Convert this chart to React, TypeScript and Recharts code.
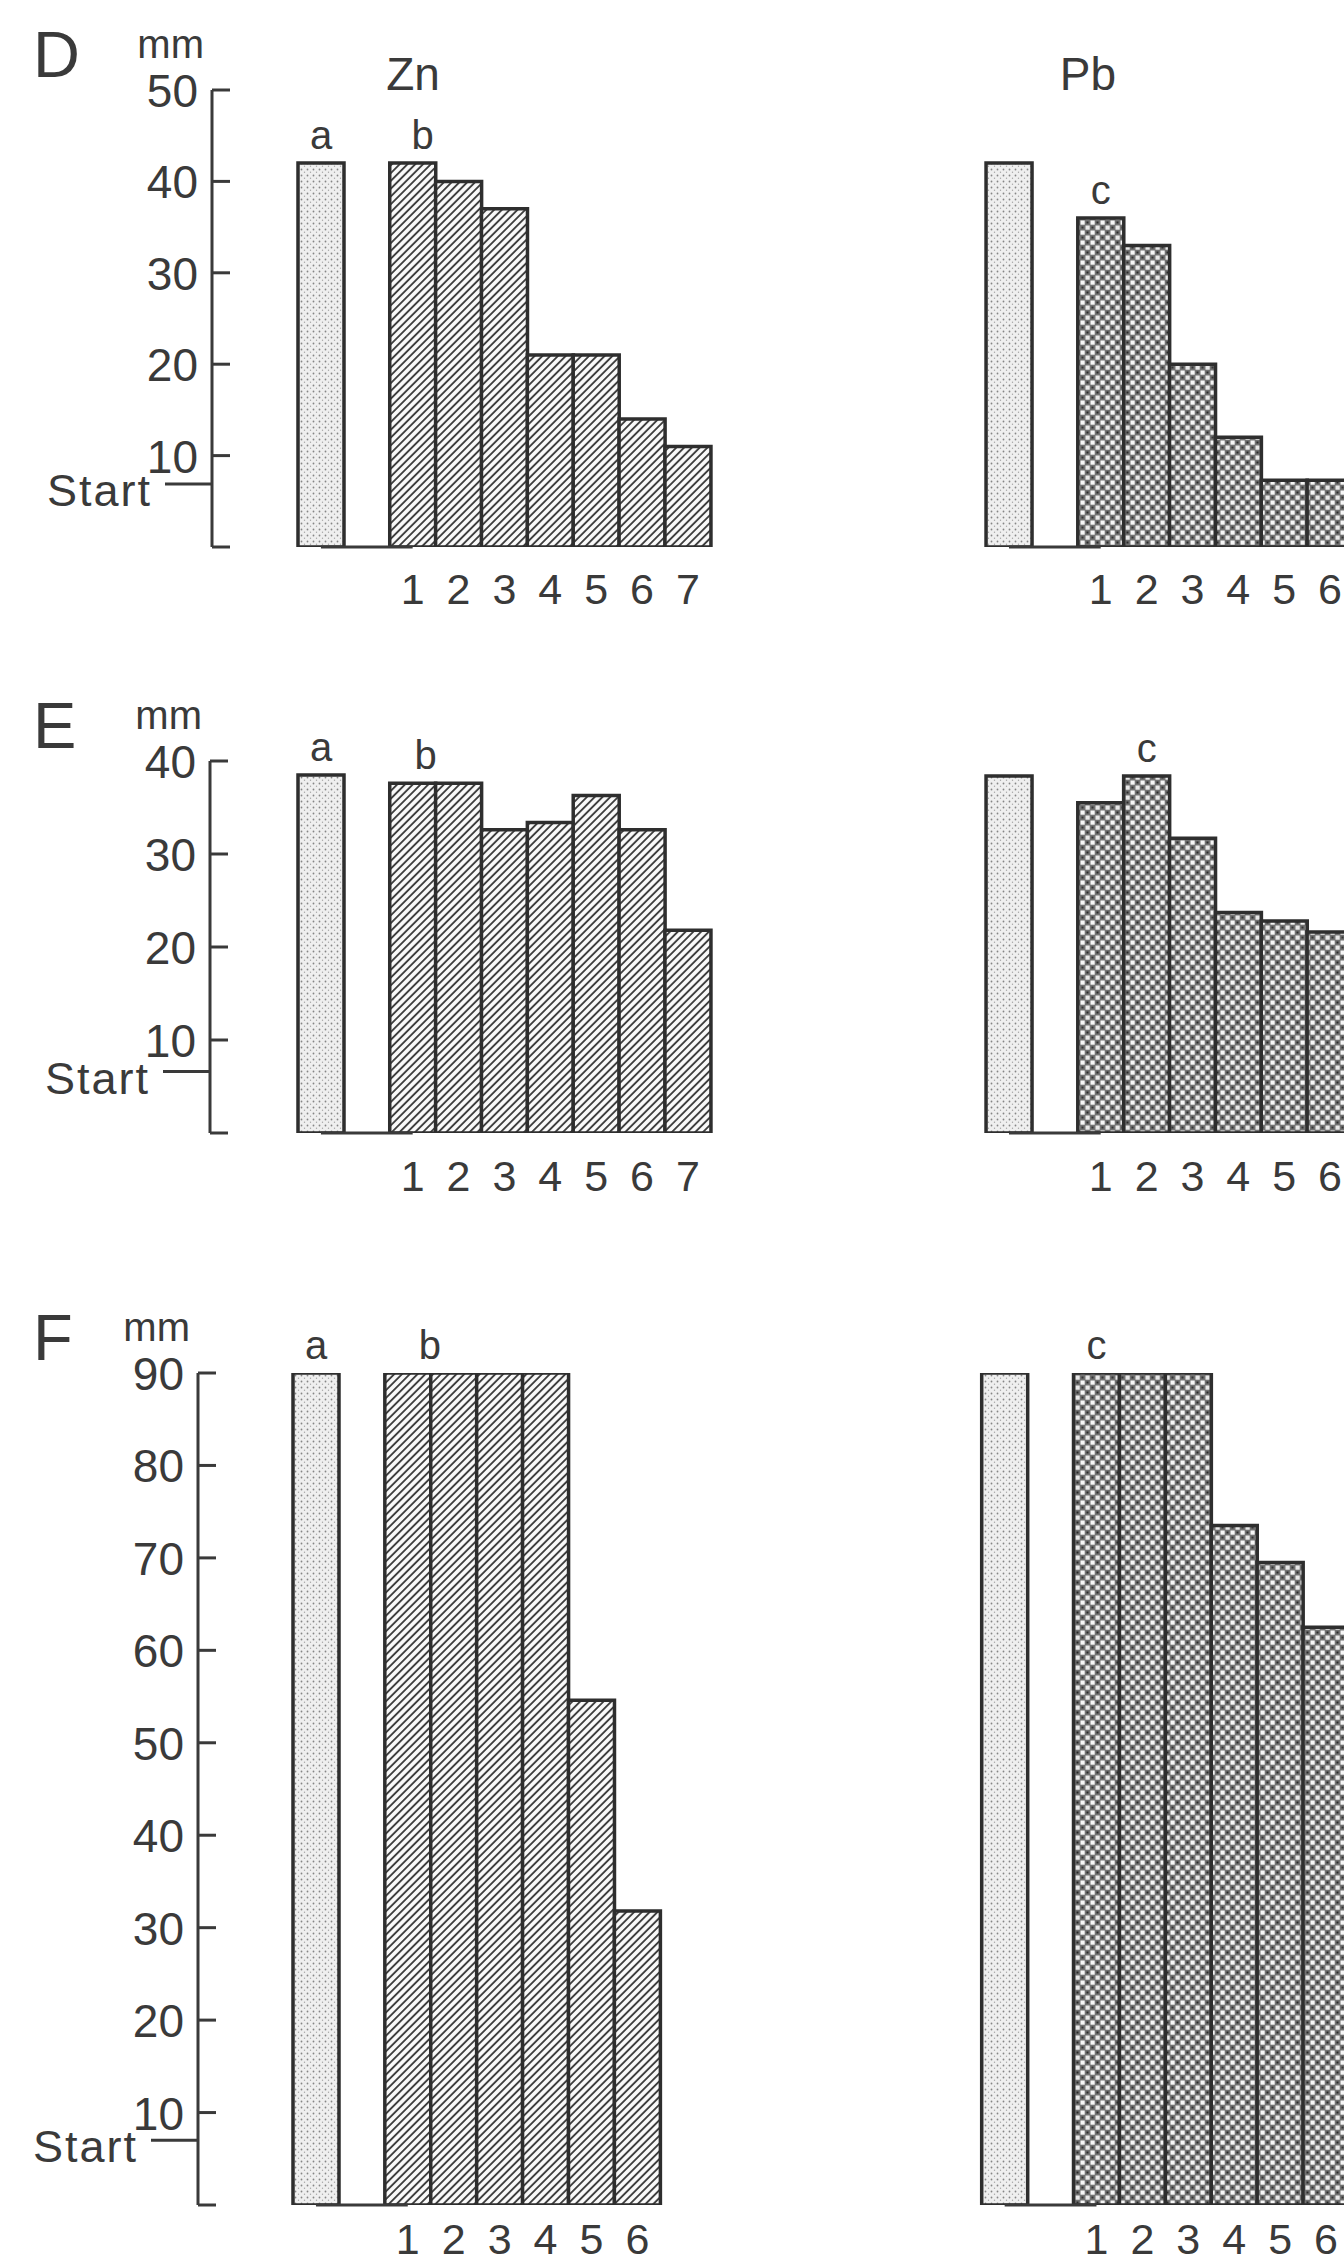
import { Bar, BarChart, Cell, LabelList, ReferenceLine, XAxis, YAxis } from 'recharts';

const INK = '#3a3a3a';
const FONT = '"Liberation Sans", Arial, sans-serif';

// D: Zn / Pb spots, mm
const D_ZN_REF = 42;
const D_ZN = [42, 40, 37, 21, 21, 14, 11];
const D_PB_REF = 42;
const D_PB = [36, 33, 20, 12, 7.3, 7.3];
const D_PB_TAG = 1;
const D_START = 6.9;
const D_TICKS = [0, 10, 20, 30, 40, 50];

// E
const E_ZN_REF = 38.5;
const E_ZN = [37.6, 37.6, 32.6, 33.4, 36.3, 32.6, 21.8];
const E_PB_REF = 38.4;
const E_PB = [35.5, 38.4, 31.7, 23.7, 22.8, 21.6];
const E_PB_TAG = 2;
const E_START = 6.6;
const E_TICKS = [0, 10, 20, 30, 40];

// F
const F_ZN_REF = 90;
const F_ZN = [90, 90, 90, 90, 54.6, 31.8];
const F_PB_REF = 90;
const F_PB = [90, 90, 90, 73.5, 69.5, 62.5];
const F_PB_TAG = 1;
const F_START = 7;
const F_TICKS = [0, 10, 20, 30, 40, 50, 60, 70, 80, 90];

type Kind = 'ref' | 'zn' | 'pb' | 'gap';
type Row = { id: string; label: string; mm: number | null; kind: Kind; tag?: string };

function buildRows(znRef: number, zn: number[], pbRef: number, pb: number[], pbTag: number, spacer: number): Row[] {
  const rows: Row[] = [];
  rows.push({ id: 'zn-a', label: '', mm: znRef, kind: 'ref', tag: 'a' });
  rows.push({ id: 'zn-g', label: '', mm: null, kind: 'gap' });
  zn.forEach((v, i) =>
    rows.push({ id: `zn-${i + 1}`, label: String(i + 1), mm: v, kind: 'zn', tag: i === 0 ? 'b' : undefined }),
  );
  for (let i = 0; i < spacer; i++) rows.push({ id: `sp-${i}`, label: '', mm: null, kind: 'gap' });
  rows.push({ id: 'pb-a', label: '', mm: pbRef, kind: 'ref' });
  rows.push({ id: 'pb-g', label: '', mm: null, kind: 'gap' });
  pb.forEach((v, i) =>
    rows.push({ id: `pb-${i + 1}`, label: String(i + 1), mm: v, kind: 'pb', tag: i + 1 === pbTag ? 'c' : undefined }),
  );
  return rows;
}

function Patterns({ p }: { p: string }) {
  return (
    <defs>
      <pattern id={`${p}-dots`} width={6} height={6} patternUnits="userSpaceOnUse">
        <rect width={6} height={6} fill="#efefef" />
        <circle cx={1.5} cy={1.5} r={0.9} fill="#858585" />
        <circle cx={4.5} cy={4.2} r={0.7} fill="#a5a5a5" />
      </pattern>
      <pattern id={`${p}-hatch`} width={5.5} height={5.5} patternUnits="userSpaceOnUse" patternTransform="rotate(45)">
        <rect width={5.5} height={5.5} fill="#fafafa" />
        <line x1={2.75} y1={0} x2={2.75} y2={5.5} stroke="#3e3e3e" strokeWidth={1.9} />
      </pattern>
      <pattern id={`${p}-check`} width={10} height={10} patternUnits="userSpaceOnUse">
        <rect width={10} height={10} fill="#727272" />
        <rect x={0.5} y={0.5} width={4.2} height={4.2} fill="#f6f6f6" />
        <rect x={5.5} y={5.5} width={4.2} height={4.2} fill="#e8e8e8" />
        <rect x={6.5} y={1.5} width={2} height={2} fill="#2a2a2a" />
        <rect x={1.5} y={6.5} width={2} height={2} fill="#343434" />
      </pattern>
    </defs>
  );
}

function fillFor(kind: Kind, p: string) {
  if (kind === 'ref') return `url(#${p}-dots)`;
  if (kind === 'zn') return `url(#${p}-hatch)`;
  if (kind === 'pb') return `url(#${p}-check)`;
  return 'none';
}

function AxisTick({ x, y, payload, start }: any) {
  const v = payload.value;
  if (v === start) {
    return (
      <g>
        <line x1={x - 47} x2={x} y1={y} y2={y} stroke={INK} strokeWidth={3} />
        <text x={x - 60} y={y} dy={22} textAnchor="end" fill={INK} fontSize={45} fontFamily={FONT} letterSpacing={2}>
          Start
        </text>
      </g>
    );
  }
  return (
    <g>
      <line x1={x} x2={x + 18} y1={y} y2={y} stroke={INK} strokeWidth={3} />
      {v !== 0 && (
        <text x={x - 14} y={y} dy={17} textAnchor="end" fill={INK} fontSize={46} fontFamily={FONT}>
          {v}
        </text>
      )}
    </g>
  );
}

type PanelProps = {
  id: string;
  letter: string;
  rows: Row[];
  ticks: number[];
  start: number;
  top: number;
  plotTop: number;
  plotH: number;
  axisX: number;
  firstX: number;
  width: number;
  xAxisH: number;
  xTickGap: number;
  bShift: number;
  titles?: boolean;
};

function Panel(props: PanelProps) {
  const { id, letter, rows, ticks, start, top, plotTop, plotH, axisX, firstX, width, xAxisH, xTickGap, bShift, titles } =
    props;
  const labelOf: Record<string, string> = {};
  rows.forEach((r) => (labelOf[r.id] = r.label));
  const max = ticks[ticks.length - 1];
  const allTicks = [...ticks, start].sort((a, b) => a - b);
  const txt = { fill: INK, fontFamily: FONT };

  const renderTag = (lp: any) => {
    const vb = lp.viewBox || lp;
    const value = lp.value;
    if (!value) return null;
    const dx = value === 'b' ? bShift : 0;
    return (
      <text x={vb.x + vb.width / 2 + dx} y={vb.y - 14} textAnchor="middle" fontSize={40} {...txt}>
        {value}
      </text>
    );
  };

  return (
    <div style={{ position: 'absolute', left: 0, top }}>
      <BarChart
        width={width}
        height={plotTop + plotH + xAxisH}
        data={rows}
        margin={{ top: plotTop, right: 0, bottom: 0, left: 0 }}
        barCategoryGap={0}
        barGap={0}
      >
        <Patterns p={id} />
        <XAxis
          dataKey="id"
          type="category"
          interval={0}
          padding={{ left: firstX - axisX, right: 0 }}
          axisLine={false}
          tickLine={false}
          tickSize={0}
          tickMargin={xTickGap}
          height={xAxisH}
          tickFormatter={(v: string) => labelOf[v]}
          tick={{ fill: INK, fontSize: 43, fontFamily: FONT }}
        />
        <YAxis
          type="number"
          domain={[0, max]}
          ticks={allTicks}
          interval={0}
          width={axisX}
          allowDataOverflow
          axisLine={{ stroke: INK, strokeWidth: 3 }}
          tickLine={false}
          tickSize={0}
          tickMargin={0}
          tick={(tp: any) => <AxisTick {...tp} start={start} />}
        />
        <ReferenceLine segment={[{ x: 'zn-a', y: 0 }, { x: 'zn-1', y: 0 }]} stroke={INK} strokeWidth={3} />
        <ReferenceLine segment={[{ x: 'pb-a', y: 0 }, { x: 'pb-1', y: 0 }]} stroke={INK} strokeWidth={3} />
        <Bar dataKey="mm" isAnimationActive={false} stroke="#2e2e2e" strokeWidth={3.5}>
          {rows.map((r) => (
            <Cell key={r.id} fill={fillFor(r.kind, id)} />
          ))}
          <LabelList dataKey="tag" content={renderTag} />
        </Bar>
        <text x={33} y={plotTop - 13} fontSize={65} {...txt}>
          {letter}
        </text>
        <text x={axisX - 8} y={plotTop - 32} fontSize={40} textAnchor="end" {...txt}>
          mm
        </text>
        {titles && (
          <>
            <text x={413} y={plotTop} fontSize={46} textAnchor="middle" {...txt}>
              Zn
            </text>
            <text x={1088} y={plotTop} fontSize={46} textAnchor="middle" {...txt}>
              Pb
            </text>
          </>
        )}
      </BarChart>
    </div>
  );
}

export default function App() {
  const dRows = buildRows(D_ZN_REF, D_ZN, D_PB_REF, D_PB, D_PB_TAG, 6);
  const eRows = buildRows(E_ZN_REF, E_ZN, E_PB_REF, E_PB, E_PB_TAG, 6);
  const fRows = buildRows(F_ZN_REF, F_ZN, F_PB_REF, F_PB, F_PB_TAG, 7);

  return (
    <div
      style={{
        position: 'absolute',
        left: 0,
        top: 0,
        width: 1344,
        height: 2265,
        overflow: 'hidden',
        background: '#fff',
      }}
    >
      <Panel id="d" letter="D" rows={dRows} ticks={D_TICKS} start={D_START} top={0} plotTop={90} plotH={457}
        axisX={212} firstX={298} width={1353} xAxisH={75} xTickGap={26} bShift={10} titles />
      <Panel id="e" letter="E" rows={eRows} ticks={E_TICKS} start={E_START} top={680} plotTop={81} plotH={372}
        axisX={210} firstX={298} width={1353} xAxisH={75} xTickGap={27} bShift={13} />
      <Panel id="f" letter="F" rows={fRows} ticks={F_TICKS} start={F_START} top={1290} plotTop={83} plotH={832}
        axisX={198} firstX={293} width={1349} xAxisH={60} xTickGap={18} bShift={22} />
    </div>
  );
}
